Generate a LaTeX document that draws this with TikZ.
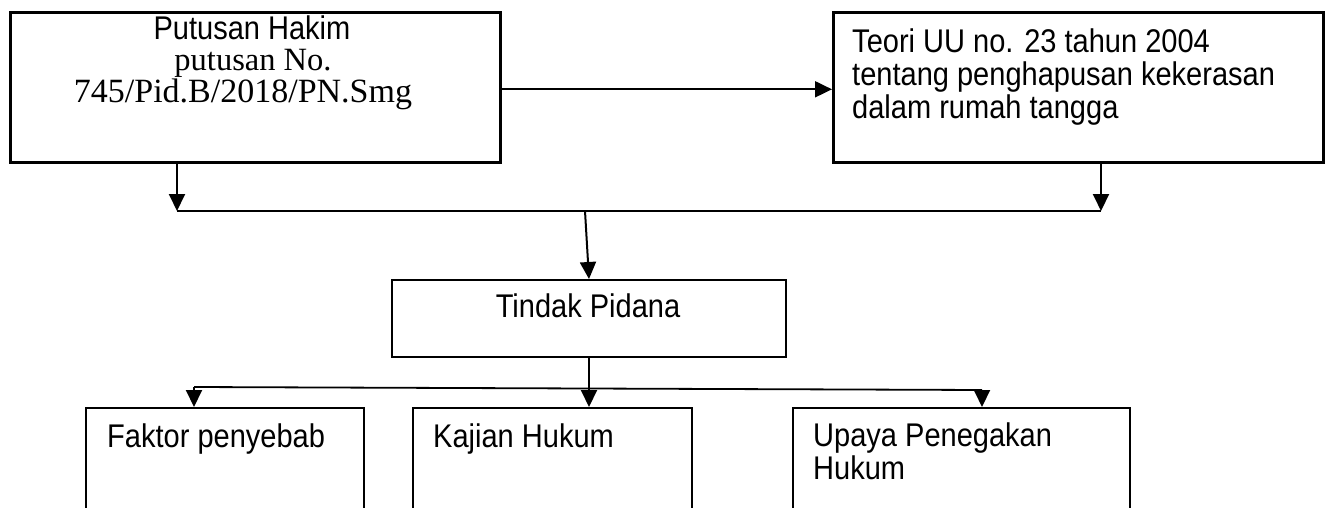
\documentclass[tikz,border=0pt]{standalone}
\usepackage{fontspec}
\setmainfont{Liberation Serif}
\newfontfamily\arialf[FakeStretch=0.885]{Liberation Sans}
\usetikzlibrary{arrows.meta}
\begin{document}
\begin{tikzpicture}[x=1pt,y=-1pt,
  topbox/.style={draw, line width=2.6pt, inner sep=0pt, anchor=north west},
  midbox/.style={draw, line width=2pt, inner sep=0pt, anchor=north west},
  lowbox/.style={draw, line width=1.6pt, inner sep=0pt, anchor=north west},
  arr/.style={line width=2pt, -{Triangle[length=17pt,width=16pt]}},
  link/.style={line width=1.8pt},
  sanstxt/.style={font=\arialf\fontsize{32.8}{33}\selectfont, inner sep=0pt},
  seriftxt/.style={font=\fontsize{32.5}{32}\selectfont, inner sep=0pt}]
\useasboundingbox (0,0) rectangle (1327,508);
\fill[white] (0,0) rectangle (1327,508);
\clip (0,0) rectangle (1327,508);

% boxes
\node[topbox, minimum width=490pt, minimum height=150pt] (hakim) at (9,11) {};
\node[topbox, minimum width=490pt, minimum height=150pt] (teori) at (832,11) {};
\node[midbox, minimum width=394pt, minimum height=77pt] (tindak) at (391,279) {};
\node[lowbox, minimum width=278pt, minimum height=130pt] (faktor) at (85,407) {};
\node[lowbox, minimum width=279pt, minimum height=130pt] (kajian) at (412,407) {};
\node[lowbox, minimum width=337pt, minimum height=130pt] (upaya) at (792,407) {};

% texts
\node[sanstxt, anchor=base] (t1) at (252,40) {Putusan Hakim};
\node[seriftxt, anchor=base] (t2) at (253,71) {putusan No.};
\node[seriftxt, anchor=base, font=\fontsize{34}{32}\selectfont] (t3) at (243,103) {745/Pid.B/2018/PN.Smg};
\node[sanstxt, anchor=base west] (t4) at (852,53) {Teori UU no. 23 tahun 2004};
\node[sanstxt, anchor=base west] (t5) at (852,86) {tentang penghapusan kekerasan};
\node[sanstxt, anchor=base west] (t6) at (852,118) {dalam rumah tangga};
\node[sanstxt, anchor=base] (t7) at (588,317) {Tindak Pidana};
\node[sanstxt, anchor=base west] (t8) at (107,447) {Faktor penyebab};
\node[sanstxt, anchor=base west] (t9) at (433,447) {Kajian Hukum};
\node[sanstxt, anchor=base west] (t10) at (813,446) {Upaya Penegakan};
\node[sanstxt, anchor=base west] (t11) at (813,479) {Hukum};

% junction points
\coordinate (j1) at (177,211);
\coordinate (j2) at (1101,211);
\coordinate (j3) at (585,211);
\coordinate (k1) at (194,387);
\coordinate (k2) at (982,390);

% connectors
\draw[arr] ([yshift=-2pt]hakim.east) -- ([yshift=-2pt]teori.west);
\draw[arr] (hakim.south -| j1) -- (j1);
\draw[arr] (teori.south -| j2) -- (j2);
\draw[link] (j1) -- (j2);
\draw[arr] (j3) -- (tindak.north);
\draw[arr] (tindak.south) -- (tindak.south |- kajian.north);
\draw[link] (k1) -- (k2);
\draw[arr] (k1) -- (k1 |- faktor.north);
\draw[arr] (k2) -- (k2 |- upaya.north);
\end{tikzpicture}
\end{document}
